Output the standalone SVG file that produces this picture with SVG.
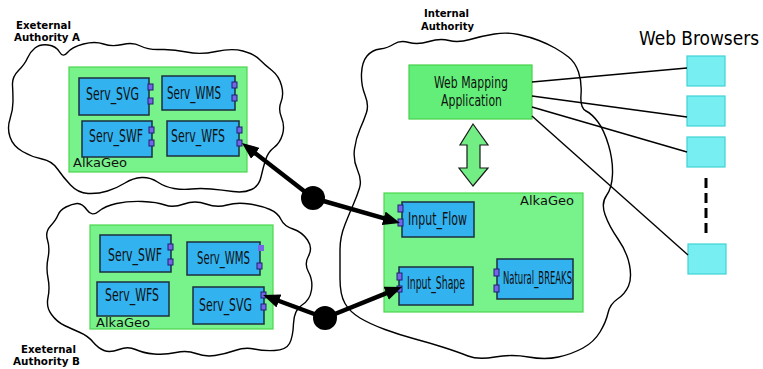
<svg xmlns="http://www.w3.org/2000/svg" width="763" height="369" viewBox="0 0 763 369">
<style>
.cloud{fill:none;stroke:#000;stroke-width:1.4}
.cont{fill:#78f28a;stroke:#4cd64c;stroke-width:1.2}
.app{fill:#62ee78;stroke:#46d048;stroke-width:1.2}
.comp{fill:#33b2f0;stroke:#1b2f3f;stroke-width:1.5}
.port{fill:#7466e6;stroke:#1e1e70;stroke-width:1}
.portn{fill:#7466e6}
.brw{fill:#76eef2;stroke:#40d2d2;stroke-width:1.2}
.lbl{font-family:"DejaVu Sans Condensed","DejaVu Sans",sans-serif;font-size:18px;fill:#111}
.app-t{font-family:"DejaVu Sans Condensed","DejaVu Sans",sans-serif;font-size:16.5px;fill:#111}
.geo{font-family:"DejaVu Sans","Liberation Sans",sans-serif;font-size:13px;fill:#111}
.auth{font-family:"DejaVu Sans Condensed","DejaVu Sans",sans-serif;font-size:11px;font-weight:bold;fill:#000}
.title{font-family:"DejaVu Sans Condensed","DejaVu Sans",sans-serif;font-size:19.5px;fill:#000}
.thin{stroke:#000;stroke-width:1.4;fill:none}
.thick{stroke:#000;stroke-width:4.5;fill:none}
</style>
<defs>
<marker id="ah" viewBox="0 0 17 14" markerWidth="17" markerHeight="14" refX="7" refY="7" orient="auto" markerUnits="userSpaceOnUse">
<path d="M0,0 L17,7 L0,14 z" fill="#000"/>
</marker>
</defs>
<rect width="763" height="369" fill="#fff"/>

<g id="cloudA">
<path class="cloud" d="M27.5,58 Q30,52 35,48 Q40,44 48,45 Q56,46 59.5,52 Q63,58 67.5,52.5 Q72,47 83.5,44 Q95,41 103.5,44 Q112,47 122.5,44.5 Q133,42 140.5,46 Q148,50 160.5,49.5 Q173,49 186.5,52 Q200,55 216,51.5 Q232,48 243,51 Q254,54 259.5,59.5 Q265,65 272,70.5 Q279,76 281.5,85.5 Q284,95 281,102 Q278,109 281.5,117.5 Q285,126 282.5,134.5 Q280,143 274,147.5 Q268,152 265.5,160 Q263,168 261,177 Q259,186 251.5,189.5 Q244,193 233,191.5 Q222,190 211,189 Q200,188 191.5,189 Q183,190 174,188.5 Q165,187 157.5,182 Q150,177 141.5,177.5 Q133,178 125,183 Q117,188 107.5,191 Q98,194 88,193.5 Q78,193 70.5,185 Q63,177 57.5,169 Q52,161 42,159 Q32,157 22.5,151.5 Q13,146 10,137 Q7,128 10,119 Q13,110 13,101.5 Q13,93 12.5,85 Q12,77 18.5,70.5 Q25,64 27.5,58 Z"/>
<text class="auth" x="16" y="29" textLength="55" lengthAdjust="spacingAndGlyphs">Exeternal</text>
<text class="auth" x="14" y="41" textLength="66" lengthAdjust="spacingAndGlyphs">Authority A</text>
</g>

<g id="alkageoA">
<rect class="cont" x="69" y="67" width="178" height="105"/>
<text class="geo" x="73" y="167" textLength="54" lengthAdjust="spacingAndGlyphs">AlkaGeo</text>
</g>
<g id="A_Serv_SVG">
<rect class="comp" x="79" y="78" width="70" height="37"/>
<rect class="port" x="148" y="84" width="5" height="6"/>
<rect class="port" x="148" y="98" width="5" height="6"/>
<text class="lbl" x="86" y="100" textLength="53" lengthAdjust="spacingAndGlyphs">Serv_SVG</text>
</g>
<g id="A_Serv_WMS">
<rect class="comp" x="162" y="76" width="73" height="34"/>
<rect class="port" x="232" y="82" width="5" height="6"/>
<rect class="port" x="232" y="95" width="5" height="6"/>
<text class="lbl" x="167" y="99" textLength="54" lengthAdjust="spacingAndGlyphs">Serv_WMS</text>
</g>
<g id="A_Serv_SWF">
<rect class="comp" x="82" y="121" width="70" height="36"/>
<rect class="port" x="149" y="127" width="5" height="6"/>
<rect class="port" x="149" y="140" width="5" height="6"/>
<text class="lbl" x="89" y="142" textLength="54" lengthAdjust="spacingAndGlyphs">Serv_SWF</text>
</g>
<g id="A_Serv_WFS">
<rect class="comp" x="167" y="121" width="72" height="35"/>
<rect class="port" x="237" y="127" width="5" height="6"/>
<rect class="port" x="237" y="140" width="5" height="6"/>
<text class="lbl" x="171" y="142" textLength="54" lengthAdjust="spacingAndGlyphs">Serv_WFS</text>
</g>

<g id="cloudB">
<path class="cloud" d="M58,215 Q60,210 66,207 Q72,204 77,203.5 Q82,203 87,210 Q92,217 98.5,211.5 Q105,206 116.5,203.5 Q128,201 142.5,201.5 Q157,202 165,205 Q173,208 184,204 Q195,200 206,204 Q217,208 227,205 Q237,202 249.5,204 Q262,206 270,209.5 Q278,213 281,219.5 Q284,226 293,229 Q302,232 307.5,240 Q313,248 308.5,256 Q304,264 308.5,272 Q313,280 311.5,290 Q310,300 302,305 Q294,310 293.5,323.5 Q293,337 289.5,343.5 Q286,350 274.5,350.5 Q263,351 254,349 Q245,347 235,350.5 Q225,354 215,355.5 Q205,357 196,353.5 Q187,350 176,352.5 Q165,355 154,354 Q143,353 135.5,349.5 Q128,346 119,349.5 Q110,353 104,350.5 Q98,348 93,342 Q88,336 80,332.5 Q72,329 64.5,325.5 Q57,322 51.5,314.5 Q46,307 48,297.5 Q50,288 48,278 Q46,268 48,258 Q50,248 47.5,240 Q45,232 50.5,226 Q56,220 58,215 Z"/>
<text class="auth" x="21" y="353" textLength="55" lengthAdjust="spacingAndGlyphs">Exeternal</text>
<text class="auth" x="13" y="365" textLength="67" lengthAdjust="spacingAndGlyphs">Authority B</text>
</g>

<g id="alkageoB">
<rect class="cont" x="90" y="225" width="183" height="104"/>
<text class="geo" x="96" y="327" textLength="54" lengthAdjust="spacingAndGlyphs">AlkaGeo</text>
</g>
<g id="B_Serv_SWF">
<rect class="comp" x="100" y="235" width="71" height="37"/>
<rect class="port" x="168" y="244" width="5" height="6"/>
<rect class="port" x="168" y="259" width="5" height="6"/>
<text class="lbl" x="108" y="261" textLength="54" lengthAdjust="spacingAndGlyphs">Serv_SWF</text>
</g>
<g id="B_Serv_WMS">
<rect class="comp" x="187" y="242" width="73" height="33"/>
<rect class="portn" x="258" y="245" width="6" height="6"/>
<rect class="port" x="257" y="263" width="5" height="6"/>
<text class="lbl" x="197" y="264" textLength="53" lengthAdjust="spacingAndGlyphs">Serv_WMS</text>
</g>
<g id="B_Serv_WFS">
<rect class="comp" x="97" y="282" width="72" height="34"/>
<text class="lbl" x="105" y="301" textLength="54" lengthAdjust="spacingAndGlyphs">Serv_WFS</text>
</g>
<g id="B_Serv_SVG">
<rect class="comp" x="193" y="287" width="71" height="37"/>
<rect class="port" x="261" y="292" width="5" height="6"/>
<rect class="port" x="261" y="304" width="5" height="6"/>
<text class="lbl" x="199" y="311" textLength="53" lengthAdjust="spacingAndGlyphs">Serv_SVG</text>
</g>

<g id="cloudInternal">
<path class="cloud" d="M361.5,73.5 Q362,62 367,56 Q372,50 380,49 Q388,48 394,44 Q400,40 409,42.5 Q418,45 429,41.5 Q440,38 449,40.5 Q458,43 470,39.5 Q482,36 494.5,34 Q507,32 518.5,34.5 Q530,37 539,40.5 Q548,44 555,48 Q562,52 568.5,57 Q575,62 578.5,72 Q582,82 581,95 Q580,108 586,111 Q592,114 598,122 Q604,130 608.5,145 Q613,160 612.5,174 Q612,188 606.5,195.5 Q601,203 605,214.5 Q609,226 618,239 Q627,252 629.5,265 Q632,278 628.5,286 Q625,294 617.5,299 Q610,304 608,313 Q606,322 600,332 Q594,342 583,348 Q572,354 558.5,357 Q545,360 528.5,357 Q512,354 495,357 Q478,360 468,356 Q458,352 444,347.5 Q430,343 415,339 Q400,335 385,329.5 Q370,324 360,318 Q350,312 345,303.5 Q340,295 340,278.5 Q340,262 340,249.5 Q340,237 345,224.5 Q350,212 353.5,204 Q357,196 359.5,188 Q362,180 357.5,170 Q353,160 354.5,149 Q356,138 360,129 Q364,120 366.5,112.5 Q369,105 365,95 Q361,85 361.5,73.5 Z"/>
<text class="auth" x="424" y="17" textLength="45" lengthAdjust="spacingAndGlyphs">Internal</text>
<text class="auth" x="421" y="30" textLength="53" lengthAdjust="spacingAndGlyphs">Authority</text>
</g>

<g id="webMapping">
<rect class="app" x="409" y="65" width="123" height="54"/>
<text class="app-t" x="434" y="88" textLength="74" lengthAdjust="spacingAndGlyphs">Web Mapping</text>
<text class="app-t" x="441" y="106" textLength="61" lengthAdjust="spacingAndGlyphs">Application</text>
</g>

<g id="alkageoInternal">
<rect class="cont" x="384" y="193" width="199" height="119"/>
<text class="geo" x="520" y="205" textLength="54" lengthAdjust="spacingAndGlyphs">AlkaGeo</text>
</g>
<g id="Input_Flow">
<rect class="comp" x="402" y="202" width="72" height="35"/>
<rect class="port" x="398" y="205" width="5" height="7"/>
<rect class="port" x="398" y="219" width="5" height="7"/>
<text class="lbl" x="408" y="225" textLength="59" lengthAdjust="spacingAndGlyphs">Input_Flow</text>
</g>
<g id="Input_Shape">
<rect class="comp" x="399" y="267" width="74" height="38"/>
<rect class="port" x="397" y="273" width="5" height="7"/>
<rect class="port" x="397" y="286" width="5" height="6"/>
<text class="lbl" x="407" y="289" textLength="58" lengthAdjust="spacingAndGlyphs">Input_Shape</text>
</g>
<g id="Natural_BREAKS">
<rect class="comp" x="497" y="259" width="76" height="40"/>
<rect class="port" x="494" y="269" width="5" height="7"/>
<rect class="port" x="494" y="285" width="5" height="7"/>
<text class="lbl" x="503" y="284" textLength="69" lengthAdjust="spacingAndGlyphs">Natural_BREAKS</text>
</g>

<g id="webBrowsers">
<text class="title" x="639" y="45" textLength="120" lengthAdjust="spacingAndGlyphs">Web Browsers</text>
<rect class="brw" x="687" y="56" width="38" height="30"/>
<rect class="brw" x="687" y="96" width="38" height="30"/>
<rect class="brw" x="687" y="137" width="38" height="30"/>
<rect class="brw" x="688" y="244" width="38" height="30"/>
</g>

<g id="connectors">
<line class="thin" x1="532" y1="82" x2="687" y2="68"/>
<line class="thin" x1="532" y1="96" x2="687" y2="117"/>
<line class="thin" x1="532" y1="107" x2="687" y2="152"/>
<line class="thin" x1="532" y1="116" x2="688" y2="255"/>
<line x1="706" y1="178" x2="706" y2="238" stroke="#000" stroke-width="3" stroke-dasharray="10,5"/>
<polygon points="473,124 488,145 480,145 480,168 488,168 473,186 459,168 467,168 467,145 460,145" fill="#72ee84" stroke="#1a1a1a" stroke-width="1.2"/>
<line class="thick" x1="313" y1="198" x2="249.9" y2="149.1" marker-end="url(#ah)"/>
<line class="thick" x1="313" y1="198" x2="390.4" y2="220.2" marker-end="url(#ah)"/>
<circle cx="313" cy="198" r="12" fill="#000"/>
<line class="thick" x1="325" y1="318" x2="272.4" y2="298.5" marker-end="url(#ah)"/>
<line class="thick" x1="325" y1="318" x2="392.7" y2="290.7" marker-end="url(#ah)"/>
<circle cx="325" cy="318" r="12" fill="#000"/>
</g>
</svg>
